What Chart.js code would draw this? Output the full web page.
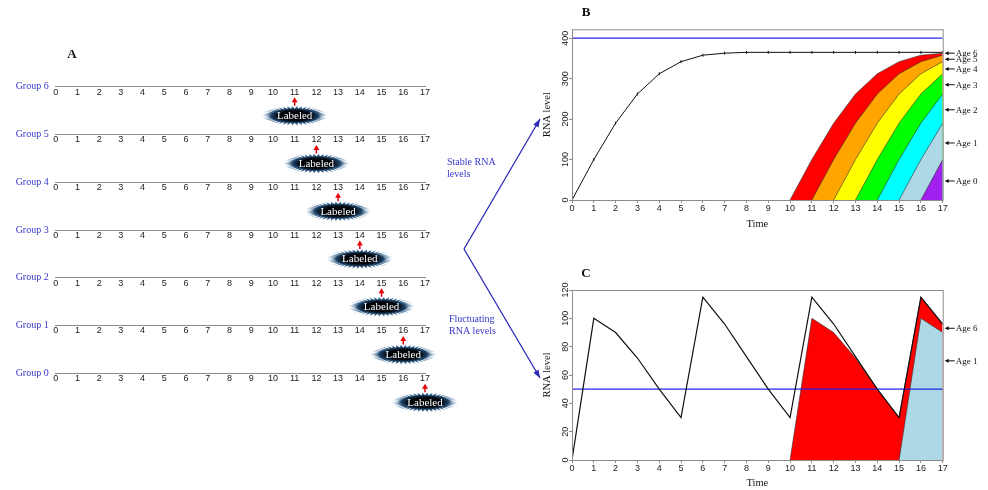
<!DOCTYPE html>
<html lang="en">
<head>
<meta charset="UTF-8" />
<title>Labeled RNA cohorts</title>
<script src="https://cdn.jsdelivr.net/npm/chart.js"></script>
<style>
  body { margin: 0; background: #fff; }
  #wrap { position: relative; width: 988px; height: 490px; overflow: hidden; }
  canvas { position: absolute; }
  #chartA { left: 0; top: 0; }
  #chartB { left: 530px; top: 0; }
  #chartC { left: 530px; top: 260px; }
</style>
</head>
<body>
<div id="wrap">
  <canvas id="chartA" width="545" height="490"></canvas>
  <canvas id="chartB" width="458" height="240"></canvas>
  <canvas id="chartC" width="458" height="230"></canvas>
</div>

<script>
  // ---- data ----
  const timeTicks = [0, 1, 2, 3, 4, 5, 6, 7, 8, 9, 10, 11, 12, 13, 14, 15, 16, 17];

  // panel A: when each group got labeled
  const groupLabels = ["Group 0", "Group 1", "Group 2", "Group 3", "Group 4", "Group 5", "Group 6"];
  const groupIds = [0, 1, 2, 3, 4, 5, 6];
  const labeledAt = [17, 16, 15, 14, 13, 12, 11];

  // panel B: stable RNA levels
  const stableTotal = [0, 100, 190, 262, 312, 342, 358, 363, 365, 365, 365, 365, 365, 365, 365, 365, 365, 365];
  const stableThreshold = 400;
  const stableAge6 = [null, null, null, null, null, null, null, null, null, null, 0, 100, 190, 262, 312, 342, 358, 363];
  const stableAge5 = [null, null, null, null, null, null, null, null, null, null, null, 0, 100, 190, 262, 312, 342, 358];
  const stableAge4 = [null, null, null, null, null, null, null, null, null, null, null, null, 0, 100, 190, 262, 312, 342];
  const stableAge3 = [null, null, null, null, null, null, null, null, null, null, null, null, null, 0, 100, 190, 262, 312];
  const stableAge2 = [null, null, null, null, null, null, null, null, null, null, null, null, null, null, 0, 100, 190, 262];
  const stableAge1 = [null, null, null, null, null, null, null, null, null, null, null, null, null, null, null, 0, 100, 190];
  const stableAge0 = [null, null, null, null, null, null, null, null, null, null, null, null, null, null, null, null, 0, 100];
  const stableAgeNames = ["Age 6", "Age 5", "Age 4", "Age 3", "Age 2", "Age 1", "Age 0"];
  const stableAgeMarks = [363, 348, 324, 285, 223, 141, 47];

  // panel C: fluctuating RNA levels
  const fluctTotal = [0, 100, 90, 72, 50, 30, 115, 96, 73, 50, 30, 115, 96, 73, 50, 30, 115, 96];
  const fluctThreshold = 50;
  const fluctAge6 = [null, null, null, null, null, null, null, null, null, null, 0, 100, 90, 72, 50, 30, 115, 96];
  const fluctAge1 = [null, null, null, null, null, null, null, null, null, null, null, null, null, null, null, 0, 100, 90];
  const fluctAgeNames = ["Age 6", "Age 1"];
  const fluctAgeMarks = [93, 70];

  // ---- styling ----
  const SERIF = "'Liberation Serif', 'Times New Roman', serif";
  const SANS = "'Liberation Sans', Arial, sans-serif";
  const BLUE_TXT = "#3636cc";
  const FRAME = "#8c8c8c";
  Chart.defaults.font.family = SANS;
  Chart.defaults.color = "#222";

  const toXY = arr => arr.map((v, i) => ({ x: timeTicks[i], y: v }));
  const flat = v => [{ x: timeTicks[0], y: v }, { x: timeTicks[timeTicks.length - 1], y: v }];

  function layer(data, color) {
    return {
      data: toXY(data),
      backgroundColor: color,
      borderColor: "#333",
      borderWidth: 0.6,
      fill: "origin",
      pointRadius: 0,
      spanGaps: false
    };
  }

  function arrowHead(ctx, x1, y1, x2, y2, len, half) {
    const a = Math.atan2(y2 - y1, x2 - x1);
    ctx.beginPath();
    ctx.moveTo(x2, y2);
    ctx.lineTo(x2 - len * Math.cos(a) + half * Math.sin(a), y2 - len * Math.sin(a) - half * Math.cos(a));
    ctx.lineTo(x2 - len * Math.cos(a) - half * Math.sin(a), y2 - len * Math.sin(a) + half * Math.cos(a));
    ctx.closePath();
    ctx.fill();
  }

  function drawBurst(ctx, cx, cy) {
    const spikes = 42, rxo = 33, ryo = 10, rxi = 24, ryi = 7;
    ctx.save();
    ctx.beginPath();
    for (let i = 0; i < spikes * 2; i++) {
      const a = Math.PI * i / spikes;
      const out = i % 2 === 0;
      const px = cx + (out ? rxo : rxi) * Math.cos(a);
      const py = cy + (out ? ryo : ryi) * Math.sin(a);
      if (i === 0) ctx.moveTo(px, py); else ctx.lineTo(px, py);
    }
    ctx.closePath();
    ctx.translate(cx, cy);
    ctx.scale(1, ryo / rxo);
    const g = ctx.createRadialGradient(0, 0, 0, 0, 0, rxo);
    g.addColorStop(0, "#000");
    g.addColorStop(0.5, "#02060c");
    g.addColorStop(0.72, "#1f4468");
    g.addColorStop(1, "#86b6e0");
    ctx.fillStyle = g;
    ctx.fill();
    ctx.restore();
    ctx.fillStyle = "#fff";
    ctx.font = "11px " + SERIF;
    ctx.textAlign = "center";
    ctx.textBaseline = "middle";
    ctx.fillText("Labeled", cx, cy + 0.5);
  }

  // ---- plugins ----
  const labeledMarks = {
    id: "labeledMarks",
    afterDatasetsDraw(chart) {
      const ctx = chart.ctx;
      chart.getDatasetMeta(0).data.forEach(pt => {
        const x = pt.x, y = pt.y;
        drawBurst(ctx, x, y + 29);
        ctx.strokeStyle = "#e8000b";
        ctx.fillStyle = "#e8000b";
        ctx.lineWidth = 1.5;
        ctx.beginPath();
        ctx.moveTo(x, y + 19);
        ctx.lineTo(x, y + 14);
        ctx.stroke();
        arrowHead(ctx, x, y + 19, x, y + 10.5, 5, 3);
      });
    }
  };

  const panelANotes = {
    id: "panelANotes",
    afterDraw(chart) {
      const ctx = chart.ctx;
      ctx.save();
      ctx.fillStyle = "#111";
      ctx.font = "bold 13px " + SERIF;
      ctx.textAlign = "center";
      ctx.textBaseline = "middle";
      ctx.fillText("A", 72, 55);

      ctx.strokeStyle = "#2b2bb8";
      ctx.fillStyle = "#2b2bb8";
      ctx.lineWidth = 1.3;
      [[540, 119], [540, 378]].forEach(([tx, ty]) => {
        ctx.beginPath();
        ctx.moveTo(464, 249);
        ctx.lineTo(tx, ty);
        ctx.stroke();
        arrowHead(ctx, 464, 249, tx, ty, 8, 3);
      });

      ctx.fillStyle = BLUE_TXT;
      ctx.font = "10px " + SERIF;
      ctx.textAlign = "left";
      ctx.fillText("Stable RNA", 447, 162);
      ctx.fillText("levels", 447, 174);
      ctx.fillText("Fluctuating", 449, 319);
      ctx.fillText("RNA levels", 449, 331);
      ctx.restore();
    }
  };

  // frame, rotated y labels, age arrows and panel letter for B and C
  const rnaPanel = {
    id: "rnaPanel",
    afterDraw(chart, args, opts) {
      const ctx = chart.ctx;
      const area = chart.chartArea;
      const ys = chart.scales.y;
      ctx.save();
      ctx.strokeStyle = FRAME;
      ctx.lineWidth = 1;
      ctx.strokeRect(area.left + 0.5, area.top + 0.5, area.right - area.left, area.bottom - area.top);

      ctx.fillStyle = "#222";
      ctx.font = "9px " + SANS;
      ctx.textAlign = "center";
      ctx.textBaseline = "middle";
      ys.ticks.forEach(t => {
        ctx.save();
        ctx.translate(area.left - 6.5, ys.getPixelForValue(t.value));
        ctx.rotate(-Math.PI / 2);
        ctx.fillText(String(t.value), 0, 0);
        ctx.restore();
      });

      ctx.fillStyle = "#111";
      ctx.strokeStyle = "#111";
      ctx.font = "9px " + SERIF;
      ctx.textAlign = "left";
      opts.names.forEach((name, i) => {
        const y = ys.getPixelForValue(opts.marks[i]);
        ctx.lineWidth = 1;
        ctx.beginPath();
        ctx.moveTo(area.right + 12, y);
        ctx.lineTo(area.right + 5, y);
        ctx.stroke();
        arrowHead(ctx, area.right + 12, y, area.right + 2, y, 4, 2);
        ctx.fillText(name, area.right + 13, y + 0.5);
      });

      ctx.font = "bold 13px " + SERIF;
      ctx.textAlign = "center";
      ctx.fillText(opts.letter, 56, opts.letterY);
      ctx.restore();
    }
  };

  // ---- panel A ----
  const scalesA = {
    x: { type: "linear", min: 0, max: 17, display: false },
    y: {
      type: "linear", min: -1, max: 7,
      afterFit: s => { s.width = 55.7; },
      ticks: {
        stepSize: 1, padding: 7, color: BLUE_TXT,
        font: { family: SERIF, size: 10 },
        callback: v => groupLabels[v] ?? ""
      },
      grid: { display: false, drawTicks: false },
      border: { display: false }
    }
  };
  groupIds.forEach(g => {
    scalesA["x" + g] = {
      type: "linear", position: { y: g }, min: 0, max: 17,
      ticks: { stepSize: 1, autoSkip: false, maxRotation: 0, padding: 0, color: "#222", font: { size: 9 } },
      grid: { drawOnChartArea: false, drawTicks: false },
      border: { color: FRAME }
    };
  });

  new Chart(document.getElementById("chartA"), {
    type: "scatter",
    data: {
      datasets: [{
        data: groupIds.map((g, i) => ({ x: labeledAt[i], y: g })),
        pointRadius: 0,
        xAxisID: "x",
        yAxisID: "y"
      }]
    },
    options: {
      responsive: false,
      animation: false,
      events: [],
      layout: { padding: { left: 0, top: 38.93, right: 120, bottom: 68.93 } },
      plugins: { legend: { display: false }, tooltip: { enabled: false } },
      scales: scalesA
    },
    plugins: [labeledMarks, panelANotes]
  });

  // ---- shared axes for B and C ----
  function rnaScales(yMax, yStep, xHeight, xTitlePad) {
    return {
      x: {
        type: "linear", min: 0, max: 17,
        afterFit: s => { s.height = xHeight; },
        ticks: { stepSize: 1, autoSkip: false, maxRotation: 0, padding: 0, color: "#222", font: { size: 9 } },
        grid: { drawOnChartArea: false, tickLength: 3, color: FRAME },
        border: { color: FRAME },
        title: { display: true, text: "Time", color: "#111", font: { family: SERIF, size: 10.5 }, padding: { top: 0, bottom: xTitlePad } }
      },
      y: {
        type: "linear", min: 0, max: yMax,
        afterFit: s => { s.width = 42; },
        ticks: { stepSize: yStep, includeBounds: false, display: false },
        grid: { drawOnChartArea: false, tickLength: 3, color: FRAME },
        border: { color: FRAME },
        title: { display: true, text: "RNA level", color: "#111", font: { family: SERIF, size: 10.5 }, padding: { top: 11, bottom: 0 } }
      }
    };
  }

  // ---- panel B ----
  const ageColors = ["#a020f0", "#add8e6", "#00ffff", "#00ff00", "#ffff00", "#ffa500", "#ff0000"];

  new Chart(document.getElementById("chartB"), {
    type: "line",
    data: {
      datasets: [
        {
          data: toXY(stableTotal), borderColor: "#111", borderWidth: 1,
          pointStyle: "line", rotation: 90, pointRadius: 1.5, pointBorderColor: "#111", pointBorderWidth: 1, fill: false
        },
        { data: flat(stableThreshold), borderColor: "#2424e6", borderWidth: 1.3, pointRadius: 0, fill: false },
        layer(stableAge0, ageColors[0]),
        layer(stableAge1, ageColors[1]),
        layer(stableAge2, ageColors[2]),
        layer(stableAge3, ageColors[3]),
        layer(stableAge4, ageColors[4]),
        layer(stableAge5, ageColors[5]),
        layer(stableAge6, ageColors[6])
      ]
    },
    options: {
      responsive: false,
      animation: false,
      events: [],
      layout: { padding: { left: 0, top: 29.3, right: 45.3, bottom: 0 } },
      plugins: {
        legend: { display: false }, tooltip: { enabled: false },
        rnaPanel: { names: stableAgeNames, marks: stableAgeMarks, letter: "B", letterY: 13 }
      },
      scales: rnaScales(422, 100, 40, 9.7)
    },
    plugins: [rnaPanel]
  });

  // ---- panel C ----
  new Chart(document.getElementById("chartC"), {
    type: "line",
    data: {
      datasets: [
        { data: toXY(fluctTotal), borderColor: "#111", borderWidth: 1.2, pointRadius: 0, fill: false },
        { data: flat(fluctThreshold), borderColor: "#2424e6", borderWidth: 1.3, pointRadius: 0, fill: false },
        layer(fluctAge1, "#add8e6"),
        layer(fluctAge6, "#ff0000")
      ]
    },
    options: {
      responsive: false,
      animation: false,
      events: [],
      layout: { padding: { left: 0, top: 30, right: 45.3, bottom: 0 } },
      plugins: {
        legend: { display: false }, tooltip: { enabled: false },
        rnaPanel: { names: fluctAgeNames, marks: fluctAgeMarks, letter: "C", letterY: 14 }
      },
      scales: rnaScales(120, 20, 30, 0)
    },
    plugins: [rnaPanel]
  });
</script>
</body>
</html>
